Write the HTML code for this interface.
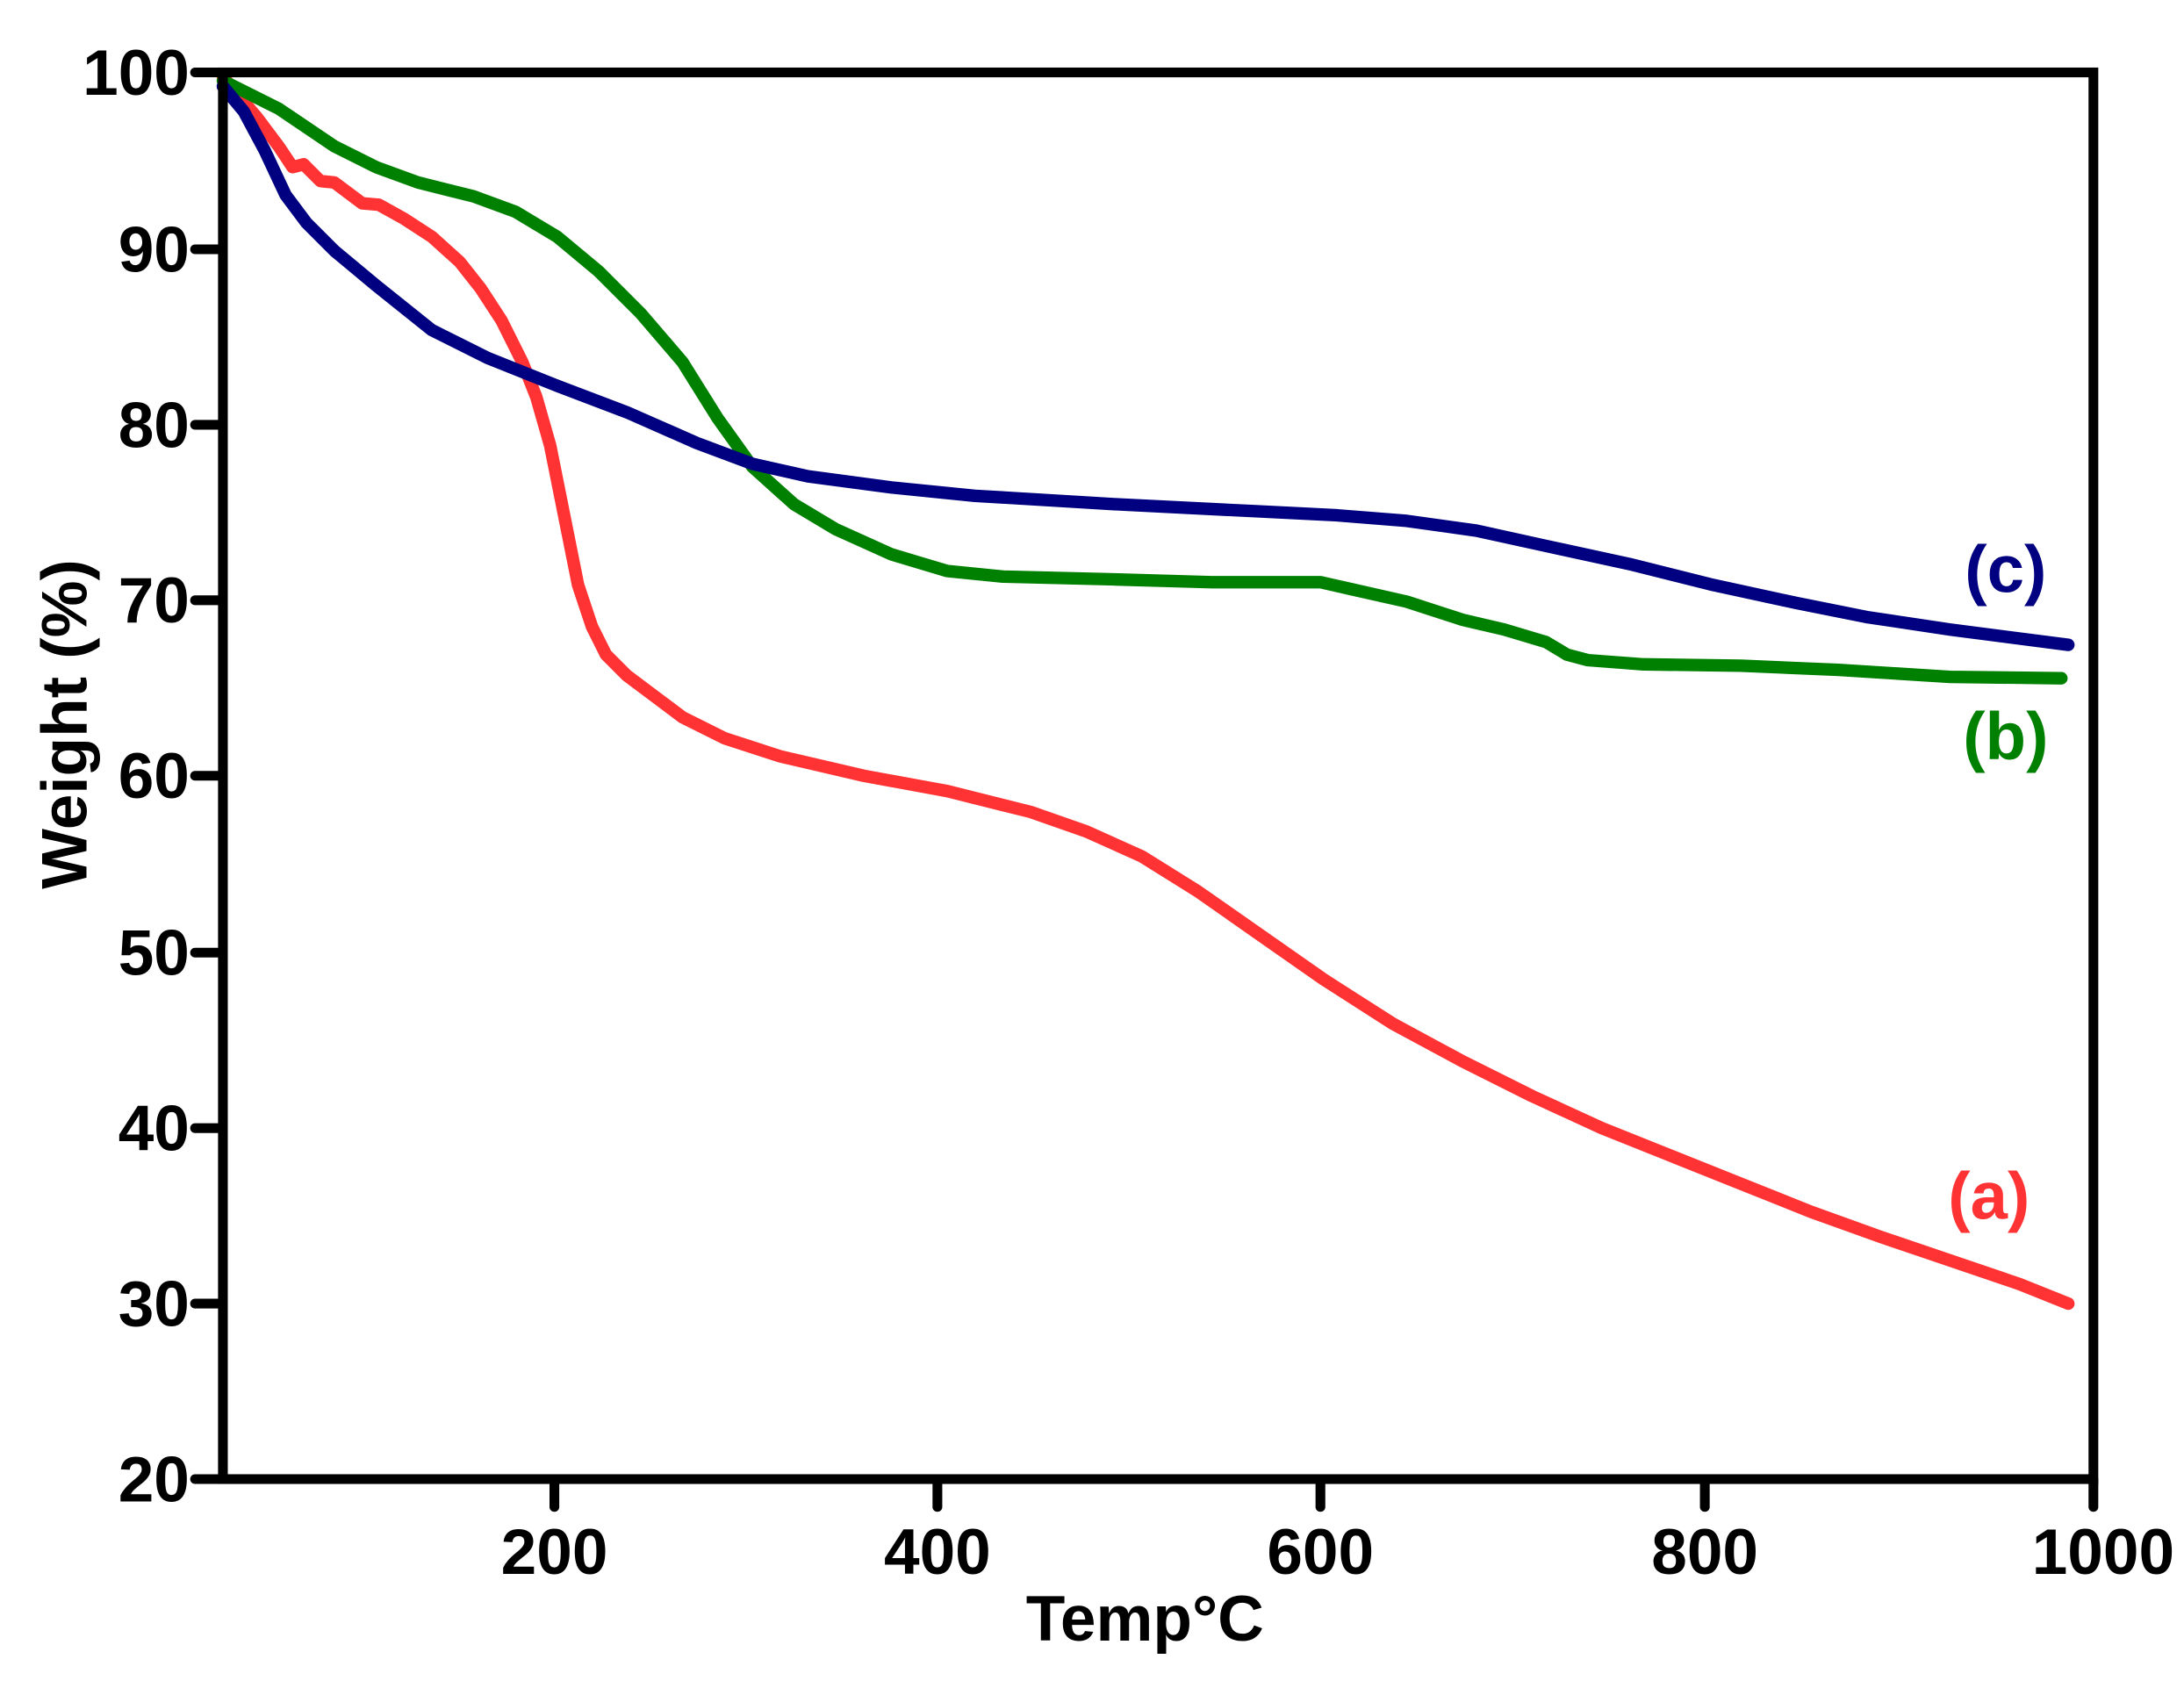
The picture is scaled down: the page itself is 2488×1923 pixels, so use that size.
<!DOCTYPE html>
<html><head><meta charset="utf-8"><style>
html,body{margin:0;padding:0;background:#fff;}
svg{display:block;}
text{font-family:"Liberation Sans",Arial,sans-serif;font-weight:bold;}
</style></head><body>
<svg width="2488" height="1923" viewBox="0 0 1568 1212" xmlns="http://www.w3.org/2000/svg">
<g fill="none" stroke-linejoin="round" stroke-linecap="round" stroke-width="9">
<polyline stroke="#ff3333" points="160,55 185,85 200,105 210,120 218,118 230,130 240,131 252,140 260,146 272,147 290,157 310,170 330,188 345,207 360,230 375,260 385,285 395,320 405,370 415,420 425,450 435,470 450,485 470,500 490,515 520,530 560,543 620,557 680,568 740,583 780,597 820,615 860,640 900,668 950,703 1000,735 1050,762 1100,787 1150,810 1200,830 1250,850 1300,870 1350,888 1400,905 1450,922 1485,936"/>
<polyline stroke="#008000" points="160,58 200,78 240,105 270,120 300,131 340,141 370,152 400,170 430,195 460,225 490,260 515,300 540,335 570,362 600,380 640,398 680,410 720,414 800,416 870,418 948,418 970,423 1010,432 1050,445 1080,452 1110,461 1125,470 1140,474 1180,477 1250,478 1320,481 1400,486 1480,487"/>
<polyline stroke="#000080" points="160,62 175,80 190,108 205,140 220,160 240,180 270,205 310,237 350,257 400,277 450,296 500,318 540,333 580,342 640,350 700,356 800,362 900,367 960,370 1010,374 1060,381 1110,392 1170,405 1230,420 1290,433 1340,443 1400,452 1485,463"/>
</g>
<g stroke="#000" stroke-width="7" fill="none" stroke-linecap="round">
<rect x="160" y="52" width="1343" height="1010" stroke-linecap="butt"/>
<path d="M140,52H160M140,179H160M140,305H160M140,431H160M140,557H160M140,684H160M140,810H160M140,936H160M140,1062H160"/>
<path d="M398,1062V1082M673,1062V1082M948,1062V1082M1224,1062V1082M1503,1062V1082"/>
</g>
<g font-size="46" text-anchor="end" fill="#000">
<text x="136" y="68">100</text><text x="136" y="195">90</text><text x="136" y="321">80</text>
<text x="136" y="447">70</text><text x="136" y="573">60</text><text x="136" y="700">50</text>
<text x="136" y="826">40</text><text x="136" y="952">30</text><text x="136" y="1078">20</text>
</g>
<g font-size="46" text-anchor="middle" fill="#000">
<text x="398" y="1130">200</text><text x="673" y="1130">400</text><text x="948" y="1130">600</text>
<text x="1224" y="1130">800</text><text x="1510" y="1130">1000</text>
<text x="822" y="1178">Temp°C</text>
<text transform="translate(62,520) rotate(-90)">Weight (%)</text>
</g>
<g font-size="48" text-anchor="middle">
<text x="1440" y="425" fill="#000080">(c)</text>
<text x="1440" y="545" fill="#008000">(b)</text>
<text x="1428" y="875" fill="#ff3333">(a)</text>
</g>
</svg>
</body></html>
